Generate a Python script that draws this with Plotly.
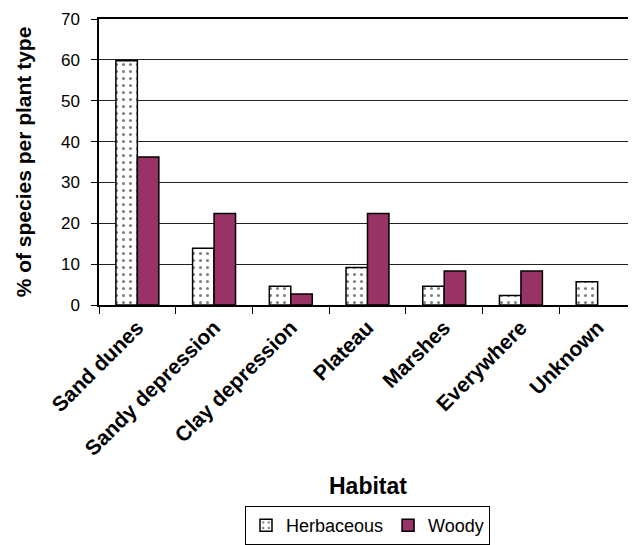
import plotly.graph_objects as go

categories = ["Sand dunes", "Sandy depression", "Clay depression", "Plateau",
              "Marshes", "Everywhere", "Unknown"]
herbaceous = [59.8, 13.9, 4.6, 9.2, 4.6, 2.3, 5.7]
woody = [36.2, 22.4, 2.7, 22.4, 8.3, 8.3, None]
y_ticks = [0, 10, 20, 30, 40, 50, 60, 70]

FONT = "Liberation Sans, Arial, sans-serif"

fig = go.Figure()
fig.add_trace(go.Bar(
    x=categories, y=herbaceous, name="Herbaceous",
    marker=dict(color="white", line=dict(color="black", width=1.5),
                pattern=dict(shape=".", fgcolor="black", bgcolor="white",
                             size=7, solidity=0.15)),
))
fig.add_trace(go.Bar(
    x=categories, y=woody, name="Woody",
    marker=dict(color="#993366", line=dict(color="black", width=1.5)),
))

fig.update_layout(
    width=628, height=537,
    margin=dict(l=91, r=0, t=11, b=240),
    paper_bgcolor="white", plot_bgcolor="white",
    barmode="group", bargap=0.44, bargroupgap=0,
    font=dict(family=FONT, color="black", size=17),
    showlegend=True,
    legend=dict(orientation="h", x=0.5, xanchor="center", y=-0.705, yanchor="top",
                bordercolor="black", borderwidth=1, font=dict(size=18),
                itemwidth=30),
    annotations=[dict(text="<b>Habitat</b>", x=0.5, xref="paper", y=-0.632,
                      yref="paper", xanchor="center", yanchor="middle",
                      showarrow=False, font=dict(size=23))],
)
fig.update_xaxes(
    showline=True, linecolor="black", linewidth=2, mirror=True,
    ticks="outside", ticklen=7, tickcolor="black", tickson="boundaries",
    tickangle=-45, tickfont=dict(size=21, family=FONT),
    tickprefix="<b>", ticksuffix="</b>",
)
fig.update_yaxes(
    range=[0, 70], tickvals=y_ticks, showgrid=True, gridcolor="#222222", gridwidth=1,
    showline=True, linecolor="black", linewidth=1.5,
    ticks="outside", ticklen=6, tickcolor="black", tickfont=dict(size=17),
    ticklabelstandoff=8,
    title=dict(text="<b>% of species per plant type</b>", font=dict(size=21), standoff=24),
    zeroline=False,
)

fig.write_html("out.html")
